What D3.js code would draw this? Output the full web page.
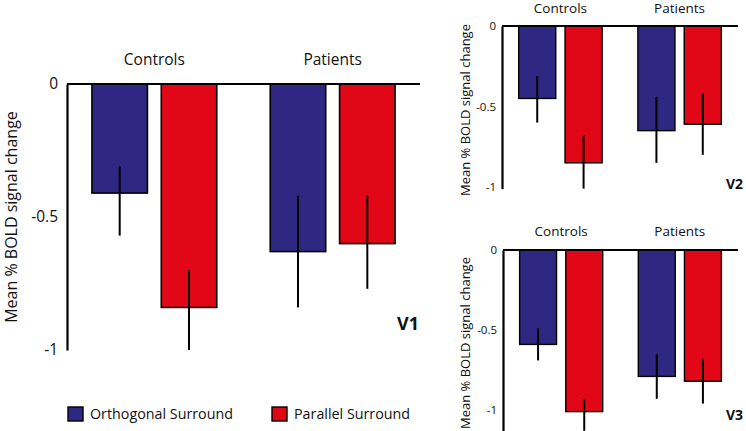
<!DOCTYPE html>
<html>
<head>
<meta charset="utf-8">
<script src="https://cdn.jsdelivr.net/npm/d3@7"></script>
<style>
  body { margin: 0; background: #fff; }
  text { font-family: "Open Sans", "Noto Sans", sans-serif; fill: #111; }
</style>
</head>
<body>
<div id="chart"></div>
<script>
// groups and series
const groups = ["Controls", "Patients"];
const series = ["Orthogonal Surround", "Parallel Surround"];
const colors = ["#2e2882", "#e10717"];

// y ticks
const tickValues = [0, -0.5, -1];
const tickLabels = ["0", "-0.5", "-1"];

// V1 values: [group][series]
const v1Mean = [[-0.41, -0.84], [-0.63, -0.60]];
const v1ErrTop = [[-0.31, -0.70], [-0.42, -0.42]];
const v1ErrBottom = [[-0.57, -1.00], [-0.84, -0.77]];

// V2 values
const v2Mean = [[-0.45, -0.85], [-0.65, -0.61]];
const v2ErrTop = [[-0.31, -0.68], [-0.44, -0.42]];
const v2ErrBottom = [[-0.60, -1.01], [-0.85, -0.80]];

// V3 values
const v3Mean = [[-0.59, -1.01], [-0.79, -0.82]];
const v3ErrTop = [[-0.49, -0.93], [-0.65, -0.68]];
const v3ErrBottom = [[-0.69, -1.13], [-0.93, -0.96]];

const svg = d3.select("#chart")
  .append("svg")
  .attr("width", 746)
  .attr("height", 431);

function drawPanel(p) {
  const g = svg.append("g");

  // scales
  const x = d3.scaleBand()
    .domain(groups)
    .range([p.left, p.right])
    .paddingInner(0.3)
    .paddingOuter(0.14);

  const xs = d3.scaleBand()
    .domain(series)
    .range([0, x.bandwidth()])
    .paddingInner(0.2);

  const y = d3.scaleLinear()
    .domain([0, p.axisMin])
    .range([p.top, p.top - p.axisMin * p.unit]);

  // rows of data for the bars
  const rows = [];
  groups.forEach((grp, gi) => {
    series.forEach((s, si) => {
      rows.push({ group: grp, series: s, si: si,
        mean: p.mean[gi][si], top: p.errTop[gi][si], bottom: p.errBottom[gi][si] });
    });
  });

  // bars
  g.selectAll(".bar")
    .data(rows)
    .enter()
    .append("rect")
    .attr("x", d => x(d.group) + xs(d.series))
    .attr("y", y(0))
    .attr("width", xs.bandwidth())
    .attr("height", d => y(d.mean) - y(0))
    .attr("fill", d => colors[d.si])
    .attr("stroke", "#000")
    .attr("stroke-width", p.barStroke);

  // error bars
  g.selectAll(".err")
    .data(rows)
    .enter()
    .append("line")
    .attr("x1", d => x(d.group) + xs(d.series) + xs.bandwidth() / 2)
    .attr("x2", d => x(d.group) + xs(d.series) + xs.bandwidth() / 2)
    .attr("y1", d => y(d.top))
    .attr("y2", d => y(d.bottom))
    .attr("stroke", "#000")
    .attr("stroke-width", p.errStroke);

  // zero line
  g.append("line")
    .attr("x1", p.left)
    .attr("x2", p.right)
    .attr("y1", y(0))
    .attr("y2", y(0))
    .attr("stroke", "#000")
    .attr("stroke-width", 2);

  // y axis
  const axis = g.append("g")
    .attr("transform", `translate(${p.left},0)`)
    .call(d3.axisLeft(y)
      .tickValues(tickValues)
      .tickFormat((d, i) => tickLabels[i])
      .tickSize(0)
      .tickPadding(p.tickPad));
  axis.select(".domain").attr("stroke", "#000").attr("stroke-width", 2.2);
  axis.selectAll("text")
    .style("font-size", p.tickFont + "px")
    .style("font-family", "'Open Sans', sans-serif")
    .attr("fill", "#111");

  // y title
  g.append("text")
    .attr("transform", `translate(${p.titleX},${p.titleY}) rotate(-90)`)
    .attr("text-anchor", "middle")
    .style("font-size", p.titleFont + "px")
    .text("Mean % BOLD signal change");

  // group labels
  g.selectAll(".grp")
    .data(groups)
    .enter()
    .append("text")
    .attr("x", d => x(d) + x.bandwidth() / 2)
    .attr("y", p.groupY)
    .attr("dy", "0.35em")
    .attr("text-anchor", "middle")
    .style("font-size", p.groupFont + "px")
    .text(d => d);

  // panel label
  g.append("text")
    .attr("x", p.nameX)
    .attr("y", p.nameY)
    .attr("dy", "0.35em")
    .style("font-size", p.nameFont + "px")
    .style("font-weight", "bold")
    .text(p.name);
}

drawPanel({ name: "V1", mean: v1Mean, errTop: v1ErrTop, errBottom: v1ErrBottom,
  left: 67, right: 420, top: 84, unit: 266, axisMin: -1,
  barStroke: 1.6, errStroke: 2, tickPad: 9, tickFont: 15.5,
  titleX: 17, titleY: 217, titleFont: 16,
  groupY: 60, groupFont: 15.5,
  nameX: 397, nameY: 324, nameFont: 18 });

drawPanel({ name: "V2", mean: v2Mean, errTop: v2ErrTop, errBottom: v2ErrBottom,
  left: 502, right: 738, top: 26, unit: 161, axisMin: -1.01,
  barStroke: 1.4, errStroke: 2, tickPad: 6, tickFont: 11.5,
  titleX: 470, titleY: 110, titleFont: 13,
  groupY: 8, groupFont: 13.5,
  nameX: 726, nameY: 184, nameFont: 14 });

drawPanel({ name: "V3", mean: v3Mean, errTop: v3ErrTop, errBottom: v3ErrBottom,
  left: 503, right: 738, top: 250, unit: 160, axisMin: -1.13,
  barStroke: 1.4, errStroke: 2, tickPad: 6, tickFont: 11.5,
  titleX: 470, titleY: 343, titleFont: 13,
  groupY: 231, groupFont: 13.5,
  nameX: 726, nameY: 415, nameFont: 14 });

// legend
const legend = svg.append("g");
const legendX = [68, 272];
legend.selectAll("rect")
  .data(series)
  .enter()
  .append("rect")
  .attr("x", (d, i) => legendX[i])
  .attr("y", 407)
  .attr("width", 15)
  .attr("height", 14)
  .attr("fill", (d, i) => colors[i])
  .attr("stroke", "#000")
  .attr("stroke-width", 1.4);

legend.selectAll("text")
  .data(series)
  .enter()
  .append("text")
  .attr("x", (d, i) => legendX[i] + 22)
  .attr("y", 414)
  .attr("dy", "0.35em")
  .style("font-size", "14.3px")
  .text(d => d);
</script>
</body>
</html>
